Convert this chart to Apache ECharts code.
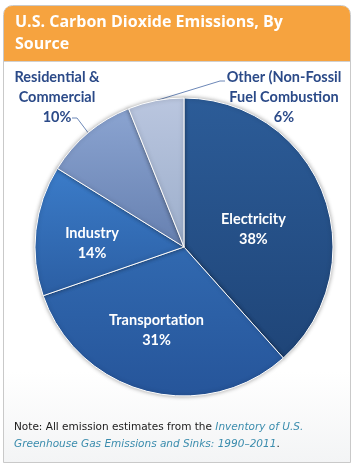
<!DOCTYPE html>
<html><head><meta charset="utf-8">
<script src="https://cdn.jsdelivr.net/npm/echarts@6/dist/echarts.min.js"></script>
<style>html,body{margin:0;padding:0;background:#fff;}#c{width:353px;height:466px;}</style>
</head><body><div id="c"></div>
<script>
var titleLines = ['U.S. Carbon Dioxide Emissions, By', 'Source'];
var categories = ['Electricity', 'Transportation', 'Industry', 'Residential & Commercial', 'Other (Non-Fossil Fuel Combustion'];
var labelNames = ['Electricity', 'Transportation', 'Industry', 'Residential &\nCommercial', 'Other (Non-Fossil\nFuel Combustion'];
var values = [38, 31, 14, 10, 6];
var noteText = 'Note: All emission estimates from the ';
var noteLink1 = 'Inventory of U.S.';
var noteLink2 = 'Greenhouse Gas Emissions and Sinks: 1990\u20132011';

var sliceColors = [
  ['#2c5c98', '#1f4578'],
  ['#3169b0', '#26559a'],
  ['#3b7cc9', '#2b5ea3'],
  ['#8ba4d1', '#6680b0'],
  ['#bac6df', '#9caecb']
];
var insideOffsets = [[-3, 10], [-8, 8], [-15, 5]];

var chart = echarts.init(document.getElementById('c'));
var data = values.map(function (v, i) {
  var inside = i < 3;
  return {
    name: categories[i],
    value: v,
    itemStyle: {
      color: new echarts.graphic.LinearGradient(0, 0, 0, 1, [
        { offset: 0, color: sliceColors[i][0] },
        { offset: 1, color: sliceColors[i][1] }
      ])
    },
    label: inside ? {
      position: 'inside',
      color: '#ffffff',
      formatter: labelNames[i] + '\n' + v + '%'
    } : {
      position: 'outside',
      color: '#2b4a88',
      overflow: 'none',
      width: 160,
      formatter: labelNames[i] + '\n' + v + '%'
    },
    labelLine: inside ? { show: false } : { show: true, lineStyle: { color: '#6d88b8', width: 1 } }
  };
});

chart.setOption({
  animation: false,
  graphic: [
    { type: 'rect', z: 0, shape: { x: 3.5, y: 5.5, width: 347, height: 457, r: [9, 9, 0, 0] },
      style: { fill: new echarts.graphic.LinearGradient(0, 0, 0, 1, [
        { offset: 0, color: '#ffffff' }, { offset: 0.8, color: '#ffffff' }, { offset: 1, color: '#f3f4f5' }]),
        stroke: '#c9c9c9', lineWidth: 1 } },
    { type: 'rect', z: 1, shape: { x: 4, y: 6, width: 346, height: 55, r: [8, 8, 0, 0] },
      style: { fill: '#f6a33f' } },
    { type: 'line', z: 1, shape: { x1: 4, y1: 61.5, x2: 350, y2: 61.5 }, style: { stroke: '#d0d0d0', lineWidth: 1 } },
    { type: 'text', z: 2, x: 15, y: 11, style: {
        text: titleLines.join('\n'), fill: '#ffffff', font: 'bold 16px "Open Sans"', lineHeight: 22 } },
    { type: 'text', z: 2, x: 14, y: 419, style: {
        text: '{n|' + noteText + '}{l|' + noteLink1 + '}\n{l|' + noteLink2 + '}{n|.}',
        rich: {
          n: { fill: '#1a1a1a', font: '10.5px "DejaVu Sans"', lineHeight: 17 },
          l: { fill: '#3a8cad', font: 'italic 10.5px "DejaVu Sans"', lineHeight: 17 }
        } } }
  ],
  series: [{
    type: 'pie',
    center: [184, 247],
    radius: 149,
    startAngle: 90,
    clockwise: true,
    silent: true,
    avoidLabelOverlap: false,
    itemStyle: { borderColor: '#ffffff', borderWidth: 1, shadowBlur: 4, shadowColor: 'rgba(0,0,0,0.35)' },
    label: { fontFamily: 'Lato', fontWeight: 'bold', fontSize: 14.5, lineHeight: 20, align: 'center' },
    labelLayout: function (p) {
      var i = p.dataIndex;
      if (i < 3) return { dx: insideOffsets[i][0], dy: insideOffsets[i][1] };
      var p0 = p.labelLinePoints ? p.labelLinePoints[0] : [0, 0];
      if (i === 3) return { x: 57, y: 97, align: 'center', verticalAlign: 'middle',
        labelLinePoints: [p0, [77, 118], [72, 118]] };
      return { x: 284, y: 97, align: 'center', verticalAlign: 'middle',
        labelLinePoints: [p0, [220, 81], [225, 81]] };
    },
    data: data
  }]
});
</script></body></html>
